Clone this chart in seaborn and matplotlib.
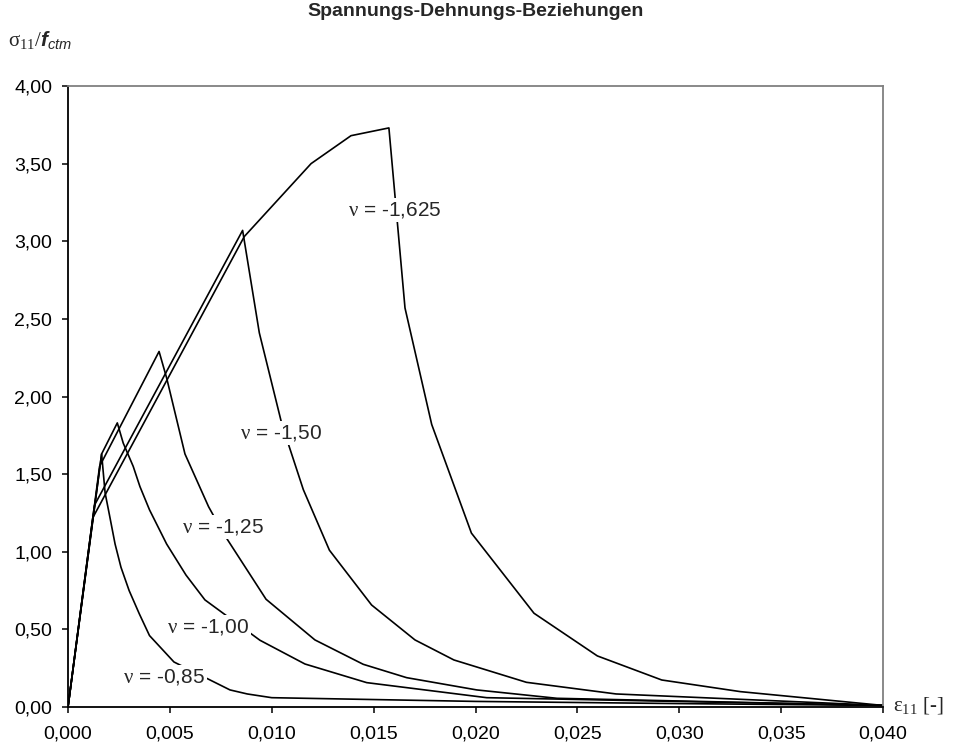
import numpy as np
import pandas as pd
import seaborn as sns
import matplotlib.pyplot as plt
from matplotlib.ticker import FuncFormatter, MultipleLocator

# --- data (strain eps_11, stress sigma_11/f_ctm) ---
nu_names = ["-0,85", "-1,00", "-1,25", "-1,50", "-1,625"]

eps_085 = [0, 0.00165, 0.00182, 0.00203, 0.00231, 0.0026, 0.0030, 0.0035, 0.0040,
           0.0052, 0.00795, 0.0088, 0.0100, 0.0200, 0.0300, 0.0400]
sig_085 = [0, 1.63, 1.38, 1.24, 1.05, 0.90, 0.75, 0.60, 0.46,
           0.29, 0.11, 0.084, 0.06, 0.036, 0.022, 0.01]

eps_100 = [0, 0.00165, 0.00242, 0.00271, 0.0032, 0.00353, 0.0040, 0.00484, 0.00579,
           0.00672, 0.00942, 0.01163, 0.01466, 0.02055, 0.0400]
sig_100 = [0, 1.63, 1.83, 1.70, 1.55, 1.42, 1.27, 1.05, 0.85,
           0.69, 0.43, 0.277, 0.157, 0.06, 0.01]

eps_125 = [0, 0.00155, 0.00447, 0.00484, 0.00574, 0.0069, 0.00762, 0.00972, 0.01212,
           0.01449, 0.01662, 0.02006, 0.0240, 0.0400]
sig_125 = [0, 1.55, 2.29, 2.12, 1.63, 1.29, 1.12, 0.694, 0.432,
           0.275, 0.189, 0.11, 0.056, 0.01]

eps_150 = [0, 0.0013, 0.00857, 0.00939, 0.0105, 0.01155, 0.01283, 0.0149, 0.01703,
           0.01894, 0.0225, 0.0269, 0.0400]
sig_150 = [0, 1.30, 3.07, 2.41, 1.82, 1.40, 1.01, 0.657, 0.432,
           0.303, 0.159, 0.084, 0.01]

eps_1625 = [0, 0.00122, 0.00865, 0.01193, 0.01389, 0.01575, 0.01654, 0.01785, 0.0198,
            0.02287, 0.02598, 0.02914, 0.0330, 0.0400]
sig_1625 = [0, 1.22, 3.03, 3.50, 3.68, 3.73, 2.57, 1.82, 1.12,
            0.604, 0.329, 0.174, 0.099, 0.01]

# curve labels (inline, on top of the lines)
label_x = [0.00471, 0.00687, 0.00761, 0.01045, 0.01605]
label_y = [0.193, 0.515, 1.16, 1.765, 3.20]

frames = []
for name, xs, ys in zip(nu_names,
                        [eps_085, eps_100, eps_125, eps_150, eps_1625],
                        [sig_085, sig_100, sig_125, sig_150, sig_1625]):
    frames.append(pd.DataFrame({"eps": xs, "sigma": ys, "nu": name}))
df = pd.concat(frames, ignore_index=True)

sns.set_style("ticks")
plt.rcParams["font.family"] = ["Liberation Sans", "DejaVu Sans"]
plt.rcParams["mathtext.fontset"] = "custom"
plt.rcParams["mathtext.rm"] = "Liberation Serif"
plt.rcParams["mathtext.it"] = "Liberation Sans:italic"
plt.rcParams["mathtext.bf"] = "Liberation Sans:bold:italic"
plt.rcParams["mathtext.default"] = "rm"

fig, ax = plt.subplots(figsize=(9.56, 7.5), dpi=100)
fig.subplots_adjust(left=68 / 956, right=883 / 956, bottom=43 / 750, top=664 / 750)

sns.lineplot(data=df, x="eps", y="sigma", hue="nu", units="nu", estimator=None,
             sort=False, palette=["black"] * len(nu_names), legend=False,
             linewidth=1.2, ax=ax)

for name, lx, ly in zip(nu_names, label_x, label_y):
    ax.text(lx, ly, r"$\nu$ = " + name, fontsize=15, ha="center", va="center",
            zorder=5, bbox=dict(facecolor="white", edgecolor="none", pad=1.5))

ax.set_xlim(0, 0.04)
ax.set_ylim(0, 4)
ax.xaxis.set_major_locator(MultipleLocator(0.005))
ax.yaxis.set_major_locator(MultipleLocator(0.5))
ax.xaxis.set_major_formatter(FuncFormatter(lambda v, p: f"{v:.3f}".replace(".", ",")))
ax.yaxis.set_major_formatter(FuncFormatter(lambda v, p: f"{v:.2f}".replace(".", ",")))
ax.tick_params(axis="both", direction="out", length=4.5, width=1.1, color="black",
               labelsize=14, labelcolor="black")
ax.tick_params(axis="x", pad=9)
ax.tick_params(axis="y", pad=7)
ax.set_xlabel("")
ax.set_ylabel("")

for side in ["left", "bottom"]:
    ax.spines[side].set_color("black")
    ax.spines[side].set_linewidth(1.3)
for side in ["top", "right"]:
    ax.spines[side].set_visible(True)
    ax.spines[side].set_color("#808080")
    ax.spines[side].set_linewidth(1.3)

fig.text(0.497, 1 - 12 / 750, "Spannungs-Dehnungs-Beziehungen", fontsize=14,
         fontweight="bold", ha="center", va="center")
fig.text(8 / 956, 1 - 40 / 750, r"$\sigma_{11}/\mathbf{f}_{\mathit{ctm}}$",
         fontsize=15, ha="left", va="center")
fig.text(893 / 956, 1 - 706 / 750, r"$\varepsilon_{11}$ [-]", fontsize=15,
         family=["Liberation Serif", "DejaVu Serif"], ha="left", va="center")

plt.savefig("out.png", dpi=100)
plt.close()
